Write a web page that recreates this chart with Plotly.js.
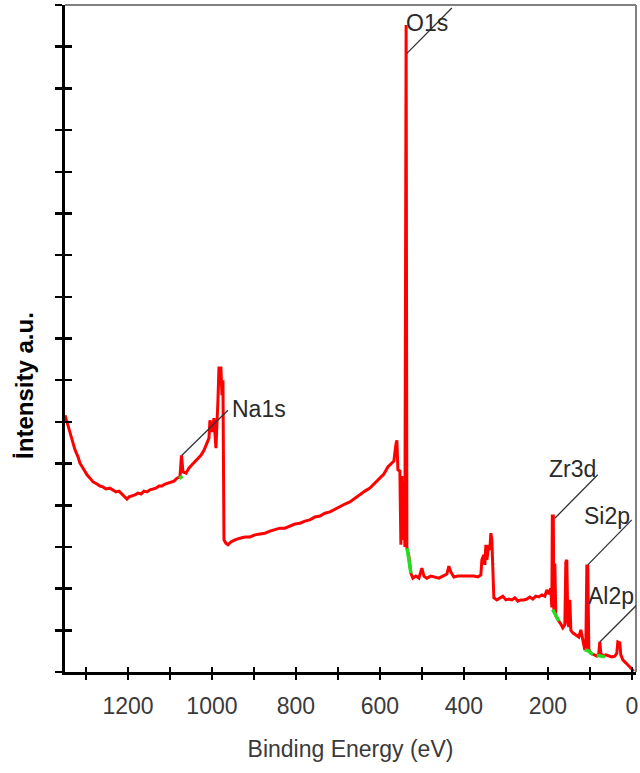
<!DOCTYPE html>
<html>
<head>
<meta charset="utf-8">
<script src="https://cdn.plot.ly/plotly-3.0.1.min.js"></script>
<style>
  html, body { margin: 0; padding: 0; background: #fff; }
  #chart { width: 640px; height: 773px; }
</style>
</head>
<body>
<div id="chart"></div>
<script>
// XPS survey spectrum: binding energy (eV) vs. intensity (arbitrary units)
const bindingEnergy = [
  1350.0, 1342.9, 1338.1, 1331.0, 1326.2, 1319.0, 1314.3, 1304.8, 1297.6, 1290.5,
  1283.3, 1273.8, 1266.7, 1259.5, 1252.4, 1242.9, 1235.7, 1228.6, 1221.4, 1214.3,
  1207.1, 1202.4, 1197.6, 1190.5, 1183.3, 1176.2, 1169.0, 1161.9, 1154.8, 1147.6,
  1140.5, 1133.3, 1126.2, 1119.0, 1111.9, 1104.8, 1097.6, 1090.5, 1083.3, 1076.2,
  1072.6, 1069.0, 1061.9, 1054.8, 1047.6, 1040.5, 1033.3, 1026.2, 1019.0, 1011.9,
  1007.1, 1004.8, 1000.0, 995.2, 990.5, 985.7, 983.3, 978.6, 976.2, 973.8,
  971.4, 966.7, 961.9, 954.8, 945.2, 933.3, 921.4, 909.5, 897.6, 885.7,
  873.8, 861.9, 850.0, 838.1, 826.2, 814.3, 802.4, 790.5, 778.6, 766.7,
  754.8, 742.9, 731.0, 719.0, 707.1, 695.2, 683.3, 671.4, 659.5, 647.6,
  635.7, 623.8, 611.9, 600.0, 590.5, 581.0, 571.4, 566.7, 561.9, 559.5,
  557.1, 552.4, 550.0, 547.6, 545.2, 542.9, 540.5, 539.0, 537.5, 535.7,
  531.0, 528.6, 526.2, 521.4, 514.3, 507.1, 500.0, 495.2, 488.1, 478.6,
  469.0, 459.5, 450.0, 440.5, 435.7, 431.0, 423.8, 414.3, 404.8, 395.2,
  385.7, 376.2, 366.7, 359.5, 357.1, 352.4, 350.0, 347.6, 345.2, 342.9,
  340.5, 338.1, 335.7, 333.3, 331.0, 328.6, 321.4, 314.3, 307.1, 300.0,
  292.9, 285.7, 278.6, 271.4, 264.3, 257.1, 250.0, 242.9, 235.7, 228.6,
  221.4, 214.3, 207.1, 202.4, 197.6, 192.9, 190.5, 189.3, 186.9, 185.7,
  183.3, 181.0, 178.6, 173.8, 169.0, 164.3, 159.5, 157.1, 154.8, 152.4,
  150.0, 147.6, 145.2, 140.5, 133.3, 126.2, 121.4, 116.7, 111.9, 109.5,
  107.1, 104.8, 102.4, 97.6, 90.5, 83.3, 78.6, 76.2, 73.8, 69.0,
  61.9, 54.8, 47.6, 40.5, 35.7, 33.3, 28.6, 26.2, 21.4, 14.3,
  7.1, 0.0, -4.8
];
const intensity = [
  6.16, 5.92, 5.73, 5.52, 5.33, 5.16, 5.01, 4.85, 4.73, 4.65,
  4.56, 4.51, 4.46, 4.44, 4.39, 4.41, 4.37, 4.32, 4.34, 4.27,
  4.22, 4.15, 4.20, 4.22, 4.25, 4.29, 4.27, 4.34, 4.32, 4.37,
  4.39, 4.41, 4.46, 4.46, 4.51, 4.53, 4.56, 4.58, 4.65, 4.68,
  5.20, 4.80, 4.77, 4.89, 4.97, 5.04, 5.13, 5.20, 5.32, 5.47,
  5.61, 6.04, 5.76, 6.09, 5.37, 6.52, 7.29, 7.29, 6.64, 7.00,
  3.17, 3.09, 3.05, 3.12, 3.17, 3.21, 3.24, 3.24, 3.29, 3.31,
  3.33, 3.38, 3.41, 3.45, 3.45, 3.50, 3.55, 3.57, 3.62, 3.65,
  3.72, 3.74, 3.81, 3.84, 3.91, 3.96, 4.03, 4.08, 4.17, 4.25,
  4.34, 4.41, 4.53, 4.65, 4.75, 4.92, 5.01, 5.06, 5.45, 5.56,
  4.85, 4.82, 3.05, 4.70, 3.17, 4.37, 3.00, 15.52, 15.52, 2.97,
  2.78, 2.57, 2.37, 2.25, 2.30, 2.25, 2.49, 2.30, 2.25, 2.30,
  2.28, 2.25, 2.30, 2.35, 2.54, 2.40, 2.28, 2.30, 2.30, 2.30,
  2.30, 2.30, 2.28, 2.33, 2.69, 2.81, 2.57, 3.05, 2.69, 2.93,
  3.05, 2.93, 3.33, 3.17, 2.45, 1.78, 1.73, 1.78, 1.82, 1.73,
  1.75, 1.73, 1.78, 1.70, 1.73, 1.73, 1.75, 1.80, 1.75, 1.82,
  1.80, 1.85, 1.82, 1.97, 1.87, 2.01, 1.55, 3.74, 3.74, 1.45,
  2.60, 1.35, 1.30, 1.22, 1.15, 1.06, 1.13, 2.64, 2.69, 1.20,
  1.08, 1.73, 1.00, 0.94, 0.89, 0.84, 1.01, 0.72, 0.53, 0.58,
  2.54, 2.54, 0.55, 0.45, 0.41, 0.38, 0.45, 0.72, 0.45, 0.38,
  0.41, 0.38, 0.36, 0.38, 0.45, 0.72, 0.70, 0.41, 0.29, 0.22,
  0.14, 0.05, 0.02
];

// Background segments under the labelled peaks
const bgNaBE = [1078.0, 1070.0];
const bgNaI = [4.64, 4.70];
const bgOBE = [535.0, 532.0, 529.5, 526.2];
const bgOI = [2.97, 2.75, 2.55, 2.37];
const bgZrBE = [188.5, 185.7, 181.0, 178.6, 173.8];
const bgZrI = [1.50, 1.45, 1.35, 1.30, 1.22];
const bgSiBE = [111.9, 102.4, 97.6, 92.9];
const bgSiI = [0.53, 0.50, 0.45, 0.42];
const bgAlBE = [83.3, 78.6, 73.8, 69.0, 64.3];
const bgAlI = [0.40, 0.40, 0.38, 0.37, 0.37];

// Peak labels: name, peak position, leader end, label position
const peakNames = ['O1s', 'Na1s', 'Zr3d', 'Si2p', 'Al2p'];
const peakBE = [535.7, 1071.4, 183.3, 104.8, 76.2];
const peakI = [14.84, 5.20, 3.69, 2.57, 0.72];
const leaderBE = [428.6, 961.9, 81.0, 0.0, -19.0];
const leaderI = [15.93, 6.28, 4.73, 3.65, 1.68];
const labelBE = [488.0, 888.0, 140.5, 59.5, 50.0];
const labelI = [15.57, 6.31, 4.87, 3.74, 1.82];

const xTickVals = [1300, 1200, 1100, 1000, 900, 800, 700, 600, 500, 400, 300, 200, 100, 0];
const xTickText = ['', '1200', '', '1000', '', '800', '', '600', '', '400', '', '200', '', '0'];
const yTickVals = [0, 1, 2, 3, 4, 5, 6, 7, 8, 9, 10, 11, 12, 13, 14, 15, 16];

const xRange = [1350, -10];
const yRange = [0, 16];

const bgStyle = { color: '#22dd22', width: 3.5 };
const traces = [
  {
    x: bindingEnergy, y: intensity, type: 'scatter', mode: 'lines',
    line: { color: '#ff0000', width: 3 }, hoverinfo: 'x+y'
  },
  { x: bgNaBE, y: bgNaI, xaxis: 'x2', yaxis: 'y2', mode: 'lines', line: bgStyle },
  { x: bgOBE, y: bgOI, xaxis: 'x2', yaxis: 'y2', mode: 'lines', line: bgStyle },
  { x: bgZrBE, y: bgZrI, xaxis: 'x2', yaxis: 'y2', mode: 'lines', line: bgStyle },
  { x: bgSiBE, y: bgSiI, xaxis: 'x2', yaxis: 'y2', mode: 'lines', line: bgStyle },
  { x: bgAlBE, y: bgAlI, xaxis: 'x2', yaxis: 'y2', mode: 'lines', line: bgStyle }
];

const labelFont = { family: 'Liberation Sans, Arial, sans-serif', size: 23, color: '#2a2a2a' };

const shapes = [
  // thin frame on the top and right sides
  { type: 'line', xref: 'paper', yref: 'paper', x0: 0, x1: 1, y0: 1, y1: 1,
    line: { color: '#808080', width: 2 } },
  { type: 'line', xref: 'paper', yref: 'paper', x0: 1, x1: 1, y0: 0, y1: 1,
    line: { color: '#808080', width: 2 } }
];
const annotations = [];
for (let i = 0; i < peakNames.length; i++) {
  shapes.push({
    type: 'line', xref: 'x', yref: 'y',
    x0: peakBE[i], y0: peakI[i], x1: leaderBE[i], y1: leaderI[i],
    line: { color: '#333333', width: 1.3 }
  });
  annotations.push({
    xref: 'x', yref: 'y', x: labelBE[i], y: labelI[i], text: peakNames[i],
    showarrow: false, font: labelFont, xanchor: 'center', yanchor: 'middle'
  });
}
annotations.push({
  xref: 'paper', yref: 'paper', x: -0.07, y: 0.429, text: 'İntensity a.u.',
  textangle: -90, showarrow: false, xanchor: 'center', yanchor: 'middle',
  font: { family: 'Liberation Sans, Arial, sans-serif', size: 24, color: '#000', weight: 'bold' }
});

const tickFont = { family: 'Liberation Sans, Arial, sans-serif', size: 23, color: '#3a3a3a' };

const layout = {
  width: 640, height: 773,
  margin: { l: 65, r: 4, t: 5, b: 101 },
  paper_bgcolor: '#ffffff', plot_bgcolor: '#ffffff',
  showlegend: false,
  xaxis: {
    range: xRange, autorange: false,
    tickmode: 'array', tickvals: xTickVals, ticktext: xTickText,
    ticks: 'outside', ticklen: 5, tickwidth: 2.5, tickcolor: '#000',
    showline: true, linecolor: '#000', linewidth: 3,
    showgrid: false, zeroline: false,
    tickfont: tickFont, ticklabelstandoff: 6,
    title: { text: 'Binding Energy (eV)', font: tickFont, standoff: 24 }
  },
  yaxis: {
    range: yRange, autorange: false,
    tickmode: 'array', tickvals: yTickVals, showticklabels: false,
    ticks: 'outside', ticklen: 7, tickwidth: 2.5, tickcolor: '#000',
    showline: true, linecolor: '#000', linewidth: 3,
    showgrid: false, zeroline: false
  },
  xaxis2: {
    overlaying: 'x', anchor: 'y2', range: xRange, autorange: false,
    tickmode: 'array', tickvals: xTickVals, showticklabels: false,
    ticks: 'inside', ticklen: 5, tickwidth: 2.5, tickcolor: '#000',
    showline: false, showgrid: false, zeroline: false
  },
  yaxis2: {
    overlaying: 'y', anchor: 'x2', range: yRange, autorange: false,
    tickmode: 'array', tickvals: yTickVals, showticklabels: false,
    ticks: 'inside', ticklen: 7, tickwidth: 2.5, tickcolor: '#000',
    showline: false, showgrid: false, zeroline: false
  },
  shapes: shapes,
  annotations: annotations
};

Plotly.newPlot('chart', traces, layout, { displayModeBar: false, staticPlot: true });
</script>
</body>
</html>
